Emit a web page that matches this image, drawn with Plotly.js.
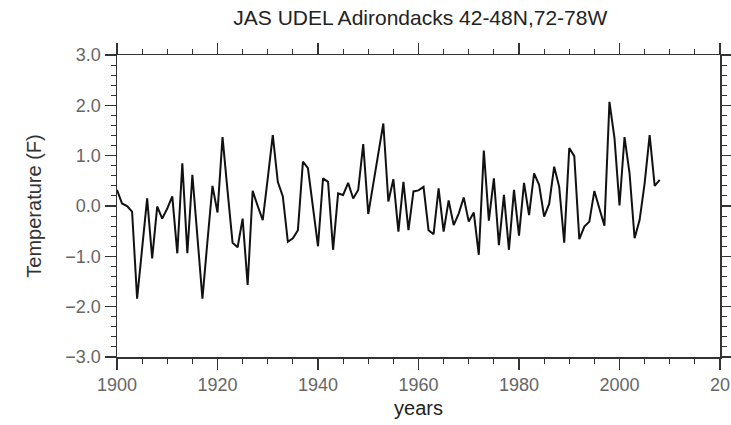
<!DOCTYPE html>
<html>
<head>
<meta charset="utf-8">
<script src="https://cdn.plot.ly/plotly-3.0.1.min.js"></script>
<style>html,body{margin:0;padding:0;background:#fff;}#chart{width:731px;height:425px;}</style>
</head>
<body>
<div id="chart"></div>
<script>
// Years 1900..2008
const startYear = 1900;
const temperatureAnomalyF = [
  0.32, 0.05, 0.00, -0.11, -1.84, -0.85, 0.15, -1.04, -0.01, -0.25,
  -0.05, 0.19, -0.94, 0.85, -0.94, 0.62, -0.60, -1.84, -0.70, 0.40,
  -0.13, 1.37, 0.30, -0.73, -0.82, -0.25, -1.57, 0.30, 0.00, -0.28,
  0.55, 1.41, 0.48, 0.19, -0.71, -0.64, -0.48, 0.88, 0.75, -0.01,
  -0.80, 0.55, 0.48, -0.87, 0.25, 0.22, 0.46, 0.15, 0.32, 1.23,
  -0.16, 0.44, 1.04, 1.64, 0.09, 0.53, -0.51, 0.48, -0.48, 0.29,
  0.31, 0.38, -0.48, -0.56, 0.35, -0.51, 0.11, -0.38, -0.15, 0.17,
  -0.31, -0.13, -0.97, 1.10, -0.29, 0.55, -0.78, 0.22, -0.87, 0.32,
  -0.59, 0.46, -0.18, 0.65, 0.42, -0.21, 0.04, 0.78, 0.38, -0.73,
  1.15, 0.99, -0.66, -0.41, -0.31, 0.30, -0.05, -0.39, 2.07, 1.35,
  0.01, 1.37, 0.65, -0.64, -0.28, 0.45, 1.41, 0.40, 0.52
];
const years = temperatureAnomalyF.map((_, i) => startYear + i);
const xTickVals = [1900, 1920, 1940, 1960, 1980, 2000, 2020];
// the last label is shown cut to "20" at the picture's right edge, as in the reference
const xTickText = ["1900", "1920", "1940", "1960", "1980", "2000", "20"];
const yTickVals = [-3, -2, -1, 0, 1, 2, 3];

const font = "Liberation Sans, Helvetica, Arial, sans-serif";
const axisColor = "#333";
const tickFontColor = "#666";

const trace = {
  x: years,
  y: temperatureAnomalyF,
  type: "scatter",
  mode: "lines",
  line: {color: "#111", width: 2},
  hoverinfo: "skip"
};

const layout = {
  width: 731,
  height: 425,
  margin: {l: 117, r: 11, t: 55, b: 68},
  paper_bgcolor: "#fff",
  plot_bgcolor: "#fff",
  showlegend: false,
  title: {
    text: "JAS UDEL Adirondacks 42-48N,72-78W",
    font: {family: font, size: 21, color: "#222"},
    x: 0.575, xanchor: "center",
    y: 0.958, yanchor: "middle"
  },
  xaxis: {
    range: [1900, 2020],
    tickvals: xTickVals,
    ticktext: xTickText,
    ticks: "outside",
    ticklen: 11,
    tickwidth: 1.3,
    tickcolor: axisColor,
    ticklabeloverflow: "allow",
    minor: {dtick: 5, tick0: 1900, ticks: "outside", ticklen: 5, tickwidth: 1, tickcolor: axisColor, showgrid: false},
    showline: true,
    linecolor: axisColor,
    linewidth: 1.5,
    mirror: "ticks",
    showgrid: false,
    zeroline: false,
    tickfont: {family: font, size: 18, color: tickFontColor},
    title: {text: "years", font: {family: font, size: 20, color: "#222"}, standoff: 7}
  },
  yaxis: {
    range: [-3, 3],
    tickvals: yTickVals,
    tickformat: ".1f",
    ticks: "outside",
    ticklen: 11,
    tickwidth: 1.3,
    tickcolor: axisColor,
    minor: {dtick: 0.2, tick0: 0, ticks: "outside", ticklen: 5, tickwidth: 1, tickcolor: axisColor, showgrid: false},
    showline: true,
    linecolor: axisColor,
    linewidth: 1.5,
    mirror: "ticks",
    showgrid: false,
    zeroline: false,
    tickfont: {family: font, size: 18, color: tickFontColor},
    title: {text: "Temperature (F)", font: {family: font, size: 20, color: "#333"}, standoff: 18}
  }
};

Plotly.newPlot("chart", [trace], layout, {staticPlot: true, displayModeBar: false});
</script>
</body>
</html>
